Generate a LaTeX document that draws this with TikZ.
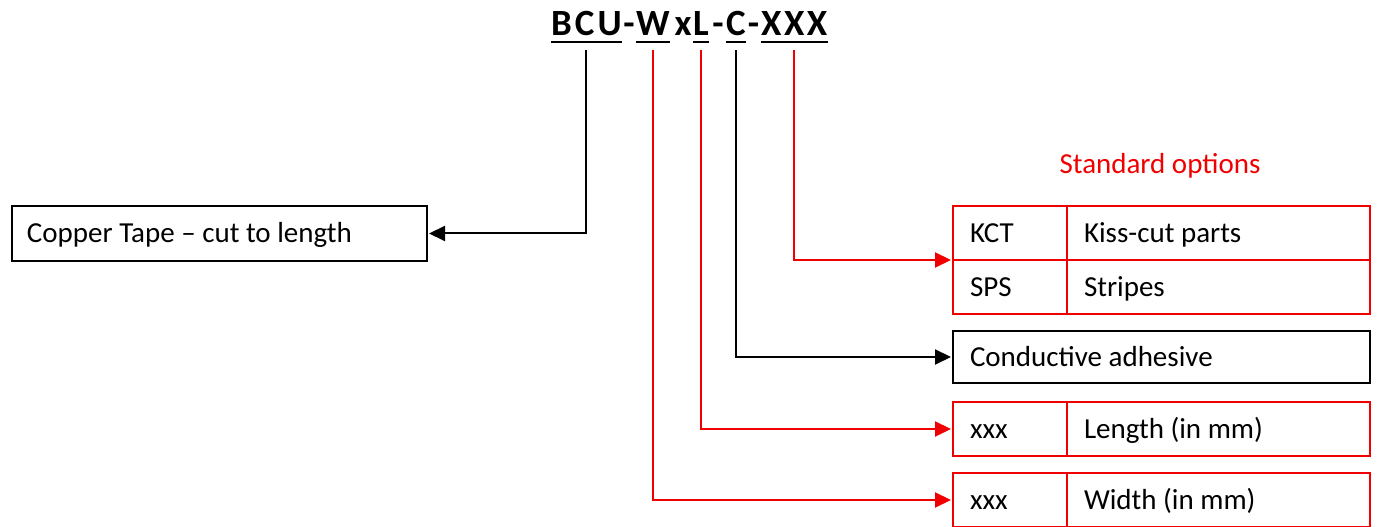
\documentclass[tikz,border=0pt]{standalone}
\usepackage{fontspec}
\setmainfont{Carlito}
\usetikzlibrary{arrows.meta}
\definecolor{optred}{RGB}{240,0,0}
\begin{document}
\begin{tikzpicture}[x=1pt,y=1pt,
  cellbox/.style={draw,line width=2.2pt,rectangle,inner ysep=0pt,outer sep=0pt,align=flush left,
    text height=19pt,text depth=0pt,
    font=\fontsize{29}{34}\selectfont,minimum height=54pt,anchor=north west},
  redbox/.style={cellbox,draw=optred},
  titlepart/.style={inner sep=0pt,anchor=base west,font=\fontsize{37}{44}\selectfont\bfseries},
  hyph/.style={inner sep=0pt,anchor=base,font=\fontsize{37}{44}\selectfont\bfseries},
  uline/.style={line width=2.6pt},
  blkcon/.style={line width=2pt,-{Triangle[length=16pt,width=15pt]},shorten >=2pt},
  redcon/.style={blkcon,draw=optred,color=optred},
  lbl/.style={font=\fontsize{29}{34}\selectfont,text=optred}]
\useasboundingbox (0,0) rectangle (1377,527);

% title parts
\node[titlepart] (t1) at (551,491) {B\kern3pt C\kern3pt U};
\node[hyph] (h1) at (629,491) {-};
\node[titlepart] (t2) at (636,491) {W};
\node[hyph] (hx) at (683,491) {x};
\node[titlepart] (t3) at (693,491) {L};
\node[hyph] (h2) at (718,491) {-};
\node[titlepart] (t4) at (726,491) {C};
\node[hyph] (h3) at (753.5,491) {-};
\node[titlepart] (t5) at (761,491) {X\kern2.5pt X\kern2.5pt X};
\foreach \t in {t1,t2,t3,t4,t5}{
  \draw[uline] ([yshift=-6pt]\t.base west) -- ([yshift=-6pt]\t.base east);
}

% left box
\node[cellbox,minimum height=55pt,inner xsep=15pt,text width=385pt] (copper) at (12,321) {Copper Tape – cut to length};

% standard options table
\node[lbl] (std) at (1160,361) {Standard options};
\node[redbox,inner xsep=17pt,text width=80pt] (kct) at (953,321) {KCT};
\node[redbox,inner xsep=17pt,text width=269pt] (kctd) at (kct.north east) {Kiss-cut parts};
\node[redbox,inner xsep=17pt,text width=80pt] (sps) at (kct.south west) {SPS};
\node[redbox,inner xsep=17pt,text width=269pt] (spsd) at (sps.north east) {Stripes};

% conductive
\node[cellbox,minimum height=52pt,inner xsep=17pt,text width=383pt] (cond) at (953,196) {Conductive adhesive};

% length
\node[redbox,inner xsep=17pt,text width=80pt] (lenk) at (953,125) {xxx};
\node[redbox,inner xsep=17pt,text width=269pt] (lend) at (lenk.north east) {Length (in mm)};

% width
\node[redbox,inner xsep=17pt,text width=80pt] (widk) at (953,54) {xxx};
\node[redbox,inner xsep=17pt,text width=269pt] (widd) at (widk.north east) {Width (in mm)};

% connectors
\draw[blkcon] ([yshift=-14pt]t1.base) |- (copper.east);
\draw[redcon] ([yshift=-14pt]t2.base) |- (widk.west);
\draw[redcon] ([yshift=-14pt]t3.base) |- (lenk.west);
\draw[blkcon] ([yshift=-14pt]t4.base) |- (cond.west);
\draw[redcon] ([yshift=-14pt]t5.base) |- (kct.south west);
\end{tikzpicture}
\end{document}
